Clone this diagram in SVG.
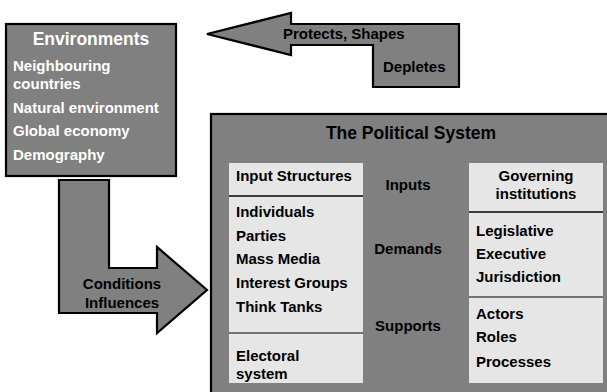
<svg xmlns="http://www.w3.org/2000/svg" width="607" height="392" viewBox="0 0 607 392">
<style>
.dark{fill:#808080;stroke:#000;stroke-width:2.2}
.light{fill:#e6e6e6;stroke:none}
.div{stroke:#000;fill:none}
text{font-family:"Liberation Sans",Arial,sans-serif;font-weight:bold}
.w{fill:#fff;font-size:15px}
.k{fill:#000;font-size:15px}
.t{font-size:17.5px}
.c{text-anchor:middle}
</style>
<rect width="607" height="392" fill="#fff"/>
<g id="connectors">
<g id="arrow-protects">
<polygon class="dark" points="207,34 291,13 291,24 459,24 459,87 373,87 373,45 291,45 291,55"/>
<text class="k" x="283" y="39">Protects, Shapes</text>
<text class="k" x="383" y="72">Depletes</text>
</g>
<g id="arrow-conditions">
<polygon class="dark" points="59,180 109,180 109,268 157,268 157,247 207,290 157,333 157,313 59,313"/>
<text class="k c" x="122" y="289">Conditions</text>
<text class="k c" x="122" y="308">Influences</text>
</g>
</g>
<g id="environments">
<rect class="dark" x="6" y="24" width="170" height="152"/>
<text class="w t c" x="91" y="45">Environments</text>
<text class="w" x="13" y="71">Neighbouring</text>
<text class="w" x="13" y="89">countries</text>
<text class="w" x="13" y="113">Natural environment</text>
<text class="w" x="13" y="136">Global economy</text>
<text class="w" x="13" y="160">Demography</text>
</g>
<g id="political-system">
<rect class="dark" x="211" y="114" width="420" height="300" stroke-width="2.5"/>
<text class="k t c" x="411" y="139">The Political System</text>
<text class="k c" x="408" y="190">Inputs</text>
<text class="k c" x="408" y="254">Demands</text>
<text class="k c" x="408" y="331">Supports</text>
</g>
<g id="input-structures">
<rect class="light" x="229" y="163" width="134" height="220"/>
<line class="div" x1="229" y1="196" x2="363" y2="196" stroke-width="1.5"/>
<line class="div" x1="229" y1="333" x2="363" y2="333" stroke-width="1"/>
<text class="k" x="236" y="181">Input Structures</text>
<text class="k" x="236" y="217">Individuals</text>
<text class="k" x="236" y="241">Parties</text>
<text class="k" x="236" y="264">Mass Media</text>
<text class="k" x="236" y="288">Interest Groups</text>
<text class="k" x="236" y="312">Think Tanks</text>
<text class="k" x="236" y="361">Electoral</text>
<text class="k" x="236" y="379">system</text>
</g>
<g id="governing-institutions">
<rect class="light" x="469" y="163" width="134" height="220"/>
<line class="div" x1="469" y1="212" x2="603" y2="212" stroke-width="1.5"/>
<line class="div" x1="469" y1="297" x2="603" y2="297" stroke-width="1"/>
<text class="k c" x="536" y="181">Governing</text>
<text class="k c" x="536" y="199">institutions</text>
<text class="k" x="476" y="236">Legislative</text>
<text class="k" x="476" y="259">Executive</text>
<text class="k" x="476" y="282">Jurisdiction</text>
<text class="k" x="476" y="319">Actors</text>
<text class="k" x="476" y="342">Roles</text>
<text class="k" x="476" y="367">Processes</text>
</g>
</svg>
